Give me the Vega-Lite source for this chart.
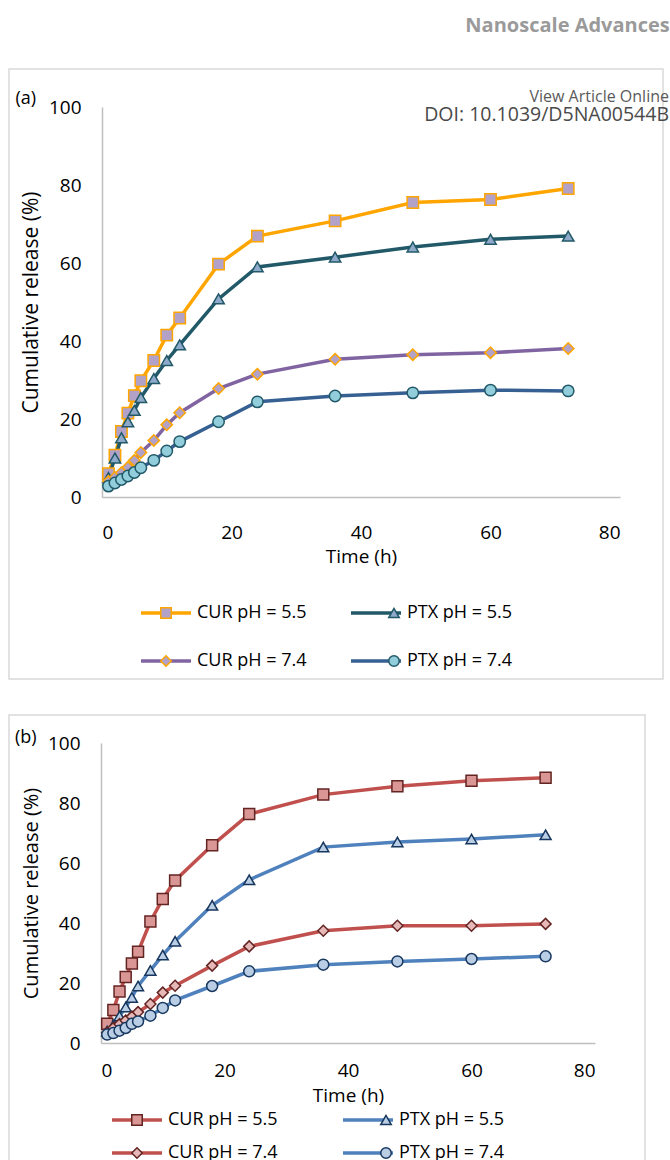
{
"$schema": "https://vega.github.io/schema/vega-lite/v6.json",
"background": "white",
"padding": {"left": 8, "top": 16, "right": 0, "bottom": 0},
"title": {"text": "Nanoscale Advances", "anchor": "end", "fontSize": 20, "fontWeight": "bold", "color": "#9a9a9a", "font": "Open Sans", "offset": 32, "baseline": "top"},
"config": {
  "view": {"stroke": "#d9d9d9", "strokeWidth": 1.5},
  "font": "Open Sans",
  "axis": {"labelFont": "Open Sans", "labelFontSize": 19, "labelColor": "#000000", "domainColor": "#bfbfbf", "domainWidth": 1.5, "ticks": false, "tickSize": 0, "grid": false, "titleFont": "Open Sans", "titleFontSize": 19, "titleFontWeight": "normal", "titleColor": "#000000"},
  "legend": {"labelFont": "Open Sans", "labelFontSize": 18, "labelColor": "#000000", "padding": 0, "labelLimit": 300}
},
"datasets": {
"a": [
{"s":"CUR pH = 5.5","o":1,"t":1,"v":6.0},{"s":"CUR pH = 5.5","o":1,"t":2,"v":10.7},{"s":"CUR pH = 5.5","o":1,"t":3,"v":16.8},{"s":"CUR pH = 5.5","o":1,"t":4,"v":21.5},{"s":"CUR pH = 5.5","o":1,"t":5,"v":26.0},{"s":"CUR pH = 5.5","o":1,"t":6,"v":29.8},{"s":"CUR pH = 5.5","o":1,"t":8,"v":35.0},{"s":"CUR pH = 5.5","o":1,"t":10,"v":41.5},{"s":"CUR pH = 5.5","o":1,"t":12,"v":45.9},{"s":"CUR pH = 5.5","o":1,"t":18,"v":59.7},{"s":"CUR pH = 5.5","o":1,"t":24,"v":66.9},{"s":"CUR pH = 5.5","o":1,"t":36,"v":70.8},{"s":"CUR pH = 5.5","o":1,"t":48,"v":75.5},{"s":"CUR pH = 5.5","o":1,"t":60,"v":76.3},{"s":"CUR pH = 5.5","o":1,"t":72,"v":79.1},
{"s":"PTX pH = 5.5","o":2,"t":1,"v":5.0},{"s":"PTX pH = 5.5","o":2,"t":2,"v":10.0},{"s":"PTX pH = 5.5","o":2,"t":3,"v":15.2},{"s":"PTX pH = 5.5","o":2,"t":4,"v":19.3},{"s":"PTX pH = 5.5","o":2,"t":5,"v":22.2},{"s":"PTX pH = 5.5","o":2,"t":6,"v":25.5},{"s":"PTX pH = 5.5","o":2,"t":8,"v":30.4},{"s":"PTX pH = 5.5","o":2,"t":10,"v":35.0},{"s":"PTX pH = 5.5","o":2,"t":12,"v":39.0},{"s":"PTX pH = 5.5","o":2,"t":18,"v":50.8},{"s":"PTX pH = 5.5","o":2,"t":24,"v":59.0},{"s":"PTX pH = 5.5","o":2,"t":36,"v":61.5},{"s":"PTX pH = 5.5","o":2,"t":48,"v":64.1},{"s":"PTX pH = 5.5","o":2,"t":60,"v":66.1},{"s":"PTX pH = 5.5","o":2,"t":72,"v":66.9},
{"s":"CUR pH = 7.4","o":3,"t":1,"v":4.0},{"s":"CUR pH = 7.4","o":3,"t":2,"v":5.0},{"s":"CUR pH = 7.4","o":3,"t":3,"v":6.2},{"s":"CUR pH = 7.4","o":3,"t":4,"v":7.6},{"s":"CUR pH = 7.4","o":3,"t":5,"v":9.4},{"s":"CUR pH = 7.4","o":3,"t":6,"v":11.4},{"s":"CUR pH = 7.4","o":3,"t":8,"v":14.5},{"s":"CUR pH = 7.4","o":3,"t":10,"v":18.5},{"s":"CUR pH = 7.4","o":3,"t":12,"v":21.6},{"s":"CUR pH = 7.4","o":3,"t":18,"v":27.8},{"s":"CUR pH = 7.4","o":3,"t":24,"v":31.5},{"s":"CUR pH = 7.4","o":3,"t":36,"v":35.3},{"s":"CUR pH = 7.4","o":3,"t":48,"v":36.5},{"s":"CUR pH = 7.4","o":3,"t":60,"v":37.0},{"s":"CUR pH = 7.4","o":3,"t":72,"v":38.1},
{"s":"PTX pH = 7.4","o":4,"t":1,"v":2.8},{"s":"PTX pH = 7.4","o":4,"t":2,"v":3.6},{"s":"PTX pH = 7.4","o":4,"t":3,"v":4.5},{"s":"PTX pH = 7.4","o":4,"t":4,"v":5.4},{"s":"PTX pH = 7.4","o":4,"t":5,"v":6.3},{"s":"PTX pH = 7.4","o":4,"t":6,"v":7.5},{"s":"PTX pH = 7.4","o":4,"t":8,"v":9.4},{"s":"PTX pH = 7.4","o":4,"t":10,"v":11.8},{"s":"PTX pH = 7.4","o":4,"t":12,"v":14.2},{"s":"PTX pH = 7.4","o":4,"t":18,"v":19.3},{"s":"PTX pH = 7.4","o":4,"t":24,"v":24.4},{"s":"PTX pH = 7.4","o":4,"t":36,"v":25.9},{"s":"PTX pH = 7.4","o":4,"t":48,"v":26.7},{"s":"PTX pH = 7.4","o":4,"t":60,"v":27.4},{"s":"PTX pH = 7.4","o":4,"t":72,"v":27.2}
],
"b": [
{"s":"CUR pH = 5.5","o":1,"t":1,"v":6.4},{"s":"CUR pH = 5.5","o":1,"t":2,"v":11.0},{"s":"CUR pH = 5.5","o":1,"t":3,"v":17.2},{"s":"CUR pH = 5.5","o":1,"t":4,"v":22.0},{"s":"CUR pH = 5.5","o":1,"t":5,"v":26.5},{"s":"CUR pH = 5.5","o":1,"t":6,"v":30.4},{"s":"CUR pH = 5.5","o":1,"t":8,"v":40.5},{"s":"CUR pH = 5.5","o":1,"t":10,"v":48.0},{"s":"CUR pH = 5.5","o":1,"t":12,"v":54.2},{"s":"CUR pH = 5.5","o":1,"t":18,"v":65.9},{"s":"CUR pH = 5.5","o":1,"t":24,"v":76.3},{"s":"CUR pH = 5.5","o":1,"t":36,"v":82.8},{"s":"CUR pH = 5.5","o":1,"t":48,"v":85.6},{"s":"CUR pH = 5.5","o":1,"t":60,"v":87.4},{"s":"CUR pH = 5.5","o":1,"t":72,"v":88.4},
{"s":"PTX pH = 5.5","o":2,"t":1,"v":4.0},{"s":"PTX pH = 5.5","o":2,"t":2,"v":6.0},{"s":"PTX pH = 5.5","o":2,"t":3,"v":9.0},{"s":"PTX pH = 5.5","o":2,"t":4,"v":12.0},{"s":"PTX pH = 5.5","o":2,"t":5,"v":15.2},{"s":"PTX pH = 5.5","o":2,"t":6,"v":19.0},{"s":"PTX pH = 5.5","o":2,"t":8,"v":24.2},{"s":"PTX pH = 5.5","o":2,"t":10,"v":29.3},{"s":"PTX pH = 5.5","o":2,"t":12,"v":33.9},{"s":"PTX pH = 5.5","o":2,"t":18,"v":45.9},{"s":"PTX pH = 5.5","o":2,"t":24,"v":54.4},{"s":"PTX pH = 5.5","o":2,"t":36,"v":65.3},{"s":"PTX pH = 5.5","o":2,"t":48,"v":67.0},{"s":"PTX pH = 5.5","o":2,"t":60,"v":68.0},{"s":"PTX pH = 5.5","o":2,"t":72,"v":69.4},
{"s":"CUR pH = 7.4","o":3,"t":1,"v":3.5},{"s":"CUR pH = 7.4","o":3,"t":2,"v":5.0},{"s":"CUR pH = 7.4","o":3,"t":3,"v":6.3},{"s":"CUR pH = 7.4","o":3,"t":4,"v":7.5},{"s":"CUR pH = 7.4","o":3,"t":5,"v":8.8},{"s":"CUR pH = 7.4","o":3,"t":6,"v":10.3},{"s":"CUR pH = 7.4","o":3,"t":8,"v":13.0},{"s":"CUR pH = 7.4","o":3,"t":10,"v":16.8},{"s":"CUR pH = 7.4","o":3,"t":12,"v":19.1},{"s":"CUR pH = 7.4","o":3,"t":18,"v":25.8},{"s":"CUR pH = 7.4","o":3,"t":24,"v":32.2},{"s":"CUR pH = 7.4","o":3,"t":36,"v":37.4},{"s":"CUR pH = 7.4","o":3,"t":48,"v":39.1},{"s":"CUR pH = 7.4","o":3,"t":60,"v":39.1},{"s":"CUR pH = 7.4","o":3,"t":72,"v":39.7},
{"s":"PTX pH = 7.4","o":4,"t":1,"v":2.8},{"s":"PTX pH = 7.4","o":4,"t":2,"v":3.3},{"s":"PTX pH = 7.4","o":4,"t":3,"v":4.1},{"s":"PTX pH = 7.4","o":4,"t":4,"v":5.0},{"s":"PTX pH = 7.4","o":4,"t":5,"v":6.4},{"s":"PTX pH = 7.4","o":4,"t":6,"v":7.2},{"s":"PTX pH = 7.4","o":4,"t":8,"v":9.1},{"s":"PTX pH = 7.4","o":4,"t":10,"v":11.7},{"s":"PTX pH = 7.4","o":4,"t":12,"v":14.2},{"s":"PTX pH = 7.4","o":4,"t":18,"v":19.0},{"s":"PTX pH = 7.4","o":4,"t":24,"v":23.9},{"s":"PTX pH = 7.4","o":4,"t":36,"v":26.1},{"s":"PTX pH = 7.4","o":4,"t":48,"v":27.2},{"s":"PTX pH = 7.4","o":4,"t":60,"v":28.0},{"s":"PTX pH = 7.4","o":4,"t":72,"v":28.9}
]
},
"resolve": {"scale": {"stroke": "independent", "fill": "independent", "shape": "independent"}},
"spacing": 34,
"vconcat": [
{
  "width": 654, "height": 610,
  "title": {"text": "View Article Online", "subtitle": "DOI: 10.1039/D5NA00544B", "anchor": "end", "frame": "group", "offset": -55, "dx": 6, "fontSize": 16, "fontWeight": "normal", "color": "#5a5a5a", "subtitleFontSize": 19.5, "subtitleColor": "#4a4a4a", "subtitlePadding": 1, "font": "Open Sans", "subtitleFont": "Open Sans", "baseline": "top"},
  "data": {"name": "a"},
  "resolve": {"scale": {"stroke": "independent", "fill": "independent", "shape": "independent"}, "axis": {"x": "independent"}},
  "layer": [
    {
      "mark": {"type": "line", "strokeWidth": 3.5},
      "encoding": {
        "x": {"field": "t", "type": "quantitative", "scale": {"domain": [0, 80], "range": [93, 611], "nice": false, "zero": false},
              "axis": {"orient": "bottom", "offset": -182, "values": [0, 20, 40, 60, 80], "labelPadding": 26, "title": "Time (h)", "titleY": 59, "titleBaseline": "middle"}},
        "y": {"field": "v", "type": "quantitative", "scale": {"domain": [0, 100], "range": [428, 38], "nice": false},
              "axis": {"orient": "left", "offset": -93, "values": [0, 20, 40, 60, 80, 100], "labelPadding": 21, "title": "Cumulative release (%)", "titleFontSize": 21, "titleX": -71, "titleY": 233, "titleAlign": "center", "titleBaseline": "middle"}},
        "stroke": {"field": "s", "type": "nominal",
              "scale": {"domain": ["CUR pH = 5.5", "PTX pH = 5.5", "CUR pH = 7.4", "PTX pH = 7.4"], "range": ["#FFA500", "#215968", "#8064A2", "#376092"]},
              "legend": {"orient": "none", "direction": "horizontal", "legendX": 130, "legendY": 529, "columns": 2, "title": null, "symbolType": "stroke", "symbolSize": 2500, "symbolStrokeWidth": 3.5, "labelOffset": 4, "clipHeight": 30, "rowPadding": 18, "columnPadding": 42, "padding": 0}}
      }
    },
    {
      "mark": {"type": "point", "filled": true, "opacity": 1, "strokeWidth": 1.5, "size": 130},
      "encoding": {
        "x": {"field": "t", "type": "quantitative", "scale": {"domain": [0, 80], "range": [93, 611], "nice": false, "zero": false},
              "axis": {"orient": "top", "offset": 0, "labels": false, "ticks": false, "domain": false, "grid": false, "title": "(a)", "titleX": 6, "titleY": 20, "titleAlign": "left", "titleBaseline": "top", "titleFontSize": 18, "titleColor": "#000000"}},
        "y": {"field": "v", "type": "quantitative", "scale": {"domain": [0, 100], "range": [428, 38], "nice": false},
              "axis": {"orient": "left", "offset": -93, "values": [0, 20, 40, 60, 80, 100], "labelPadding": 21, "title": "Cumulative release (%)", "titleFontSize": 21, "titleX": -71, "titleY": 233, "titleAlign": "center", "titleBaseline": "middle"}},
        "fill": {"field": "s", "type": "nominal", "sort": {"field": "o", "op": "min"},
              "scale": {"range": ["#B3A2C7", "#8EA9C9", "#B3A2C7", "#92CDDC"]},
              "legend": {"orient": "none", "direction": "horizontal", "legendX": 130, "legendY": 529, "columns": 2, "title": null, "symbolSize": 110, "symbolStrokeWidth": 1.5, "symbolOffset": 18, "symbolOpacity": 1, "labelOffset": 40, "labelOpacity": 0, "clipHeight": 30, "rowPadding": 18, "columnPadding": 42, "padding": 0}},
        "stroke": {"field": "s", "type": "nominal", "sort": {"field": "o", "op": "min"},
              "scale": {"range": ["#FFA500", "#215968", "#FFA500", "#215968"]},
              "legend": {"orient": "none", "direction": "horizontal", "legendX": 130, "legendY": 529, "columns": 2, "title": null, "symbolSize": 110, "symbolStrokeWidth": 1.5, "symbolOffset": 18, "symbolOpacity": 1, "labelOffset": 40, "labelOpacity": 0, "clipHeight": 30, "rowPadding": 18, "columnPadding": 42, "padding": 0}},
        "shape": {"field": "s", "type": "nominal", "sort": {"field": "o", "op": "min"},
              "scale": {"range": ["square", "triangle-up", "diamond", "circle"]},
              "legend": {"orient": "none", "direction": "horizontal", "legendX": 130, "legendY": 529, "columns": 2, "title": null, "symbolSize": 110, "symbolStrokeWidth": 1.5, "symbolOffset": 18, "symbolOpacity": 1, "labelOffset": 40, "labelOpacity": 0, "clipHeight": 30, "rowPadding": 18, "columnPadding": 42, "padding": 0}}
      }
    }
  ]
},
{
  "width": 636, "height": 460,
  "title": {"text": "(b)", "anchor": "start", "frame": "group", "offset": -32, "dx": 6, "fontSize": 18, "fontWeight": "normal", "color": "#000000", "baseline": "top"},
  "data": {"name": "b"},
  "resolve": {"scale": {"stroke": "independent", "fill": "independent", "shape": "independent"}},
  "layer": [
    {
      "mark": {"type": "line", "strokeWidth": 3.5},
      "encoding": {
        "x": {"field": "t", "type": "quantitative", "scale": {"domain": [0, 80], "range": [92, 586], "nice": false, "zero": false},
              "axis": {"orient": "bottom", "offset": -132, "values": [0, 20, 40, 60, 80], "labelPadding": 18, "title": "Time (h)", "titleY": 52, "titleBaseline": "middle"}},
        "y": {"field": "v", "type": "quantitative", "scale": {"domain": [0, 100], "range": [328, 28], "nice": false},
              "axis": {"orient": "left", "offset": -92, "values": [0, 20, 40, 60, 80, 100], "labelPadding": 21, "title": "Cumulative release (%)", "titleFontSize": 20, "titleX": -70, "titleY": 178, "titleAlign": "center", "titleBaseline": "middle"}},
        "stroke": {"field": "s", "type": "nominal",
              "scale": {"domain": ["CUR pH = 5.5", "PTX pH = 5.5", "CUR pH = 7.4", "PTX pH = 7.4"], "range": ["#C0504D", "#4F81BD", "#C0504D", "#4F81BD"]},
              "legend": {"orient": "none", "direction": "horizontal", "legendX": 101, "legendY": 390, "columns": 2, "title": null, "symbolType": "stroke", "symbolSize": 2500, "symbolStrokeWidth": 3.5, "labelOffset": 4, "clipHeight": 30, "rowPadding": 3, "columnPadding": 63, "padding": 0}}
      }
    },
    {
      "mark": {"type": "point", "filled": true, "opacity": 1, "strokeWidth": 1.5, "size": 120},
      "encoding": {
        "x": {"field": "t", "type": "quantitative", "scale": {"domain": [0, 80], "range": [92, 586], "nice": false, "zero": false}},
        "y": {"field": "v", "type": "quantitative", "scale": {"domain": [0, 100], "range": [328, 28], "nice": false},
              "axis": {"orient": "left", "offset": -92, "values": [0, 20, 40, 60, 80, 100], "labelPadding": 21, "title": "Cumulative release (%)", "titleFontSize": 20, "titleX": -70, "titleY": 178, "titleAlign": "center", "titleBaseline": "middle"}},
        "fill": {"field": "s", "type": "nominal", "sort": {"field": "o", "op": "min"},
              "scale": {"range": ["#D99694", "#B9CDE5", "#E6B9B8", "#B9CDE5"]},
              "legend": {"orient": "none", "direction": "horizontal", "legendX": 101, "legendY": 390, "columns": 2, "title": null, "symbolSize": 110, "symbolStrokeWidth": 1.5, "symbolOffset": 18, "symbolOpacity": 1, "labelOffset": 40, "labelOpacity": 0, "clipHeight": 30, "rowPadding": 3, "columnPadding": 63, "padding": 0}},
        "stroke": {"field": "s", "type": "nominal", "sort": {"field": "o", "op": "min"},
              "scale": {"range": ["#632523", "#17375E", "#632523", "#17375E"]},
              "legend": {"orient": "none", "direction": "horizontal", "legendX": 101, "legendY": 390, "columns": 2, "title": null, "symbolSize": 110, "symbolStrokeWidth": 1.5, "symbolOffset": 18, "symbolOpacity": 1, "labelOffset": 40, "labelOpacity": 0, "clipHeight": 30, "rowPadding": 3, "columnPadding": 63, "padding": 0}},
        "shape": {"field": "s", "type": "nominal", "sort": {"field": "o", "op": "min"},
              "scale": {"range": ["square", "triangle-up", "diamond", "circle"]},
              "legend": {"orient": "none", "direction": "horizontal", "legendX": 101, "legendY": 390, "columns": 2, "title": null, "symbolSize": 110, "symbolStrokeWidth": 1.5, "symbolOffset": 18, "symbolOpacity": 1, "labelOffset": 40, "labelOpacity": 0, "clipHeight": 30, "rowPadding": 3, "columnPadding": 63, "padding": 0}}
      }
    }
  ]
}
]
}
